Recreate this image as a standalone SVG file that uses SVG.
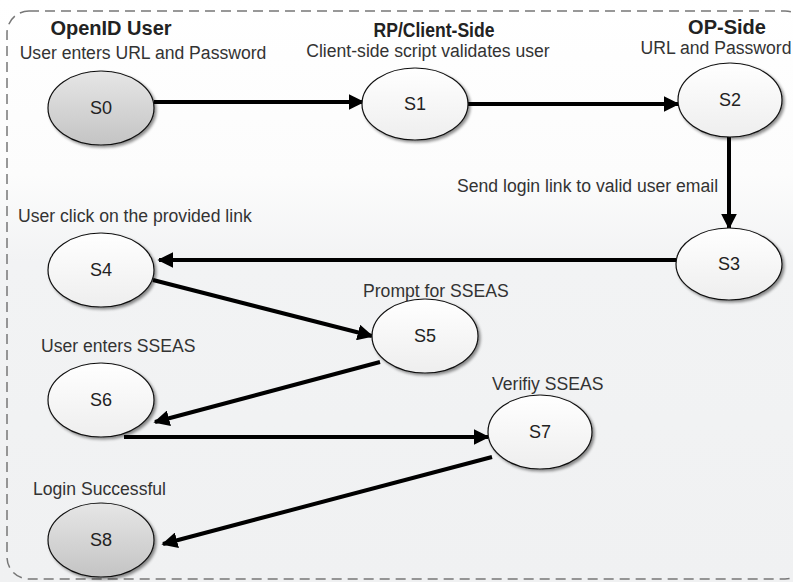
<svg xmlns="http://www.w3.org/2000/svg" width="793" height="582" viewBox="0 0 793 582">
  <defs>
    <linearGradient id="bg" x1="0" y1="0" x2="0" y2="1">
      <stop offset="0" stop-color="#ffffff"/>
      <stop offset="0.3" stop-color="#fcfcfc"/>
      <stop offset="0.45" stop-color="#f2f3f4"/>
      <stop offset="1" stop-color="#f0f1f2"/>
    </linearGradient>
    <linearGradient id="white" x1="0" y1="0" x2="0" y2="1">
      <stop offset="0" stop-color="#ffffff"/>
      <stop offset="1" stop-color="#eeeeee"/>
    </linearGradient>
    <linearGradient id="grey" x1="0" y1="0" x2="0" y2="1">
      <stop offset="0" stop-color="#e6e6e6"/>
      <stop offset="1" stop-color="#c4c4c4"/>
    </linearGradient>
    <filter id="shadow" x="-20%" y="-20%" width="150%" height="150%">
      <feGaussianBlur in="SourceAlpha" stdDeviation="1.5"/>
      <feOffset dx="2" dy="2" result="b"/>
      <feComponentTransfer><feFuncA type="linear" slope="0.45"/></feComponentTransfer>
      <feMerge><feMergeNode/><feMergeNode in="SourceGraphic"/></feMerge>
    </filter>
    <marker id="arrow" viewBox="0 0 10 10" refX="9" refY="5" markerWidth="4" markerHeight="4" markerUnits="strokeWidth" orient="auto">
      <path d="M0,0 L10,5 L0,10 z" fill="#000"/>
    </marker>
  </defs>
  <style>
    .state { stroke: #111; stroke-width: 1.2; filter: url(#shadow); }
    .plain { fill: url(#white); }
    .shaded { fill: url(#grey); }
    .id { font-family: "Liberation Sans", Arial, sans-serif; font-size: 18px; fill: #222; text-anchor: middle; }
    .head { font-family: "Liberation Sans", Arial, sans-serif; font-size: 20px; font-weight: bold; fill: #222; text-anchor: middle; }
    .lbl { font-family: "Liberation Sans", Arial, sans-serif; font-size: 17.6px; fill: #333; }
    .edge { fill: none; stroke: #000; stroke-width: 4; marker-end: url(#arrow); }
  </style>

  <!-- canvas and dashed frame -->
  <rect x="0" y="0" width="793" height="582" fill="url(#bg)"/>
  <rect x="7" y="11" width="800" height="568" rx="22" ry="22" fill="none" stroke="#777" stroke-width="1.5" stroke-dasharray="10,6"/>

  <!-- column headers -->
  <g id="headers">
    <text class="head" x="111" y="35" font-size="20.5">OpenID User</text>
    <text class="lbl" x="143" y="59" text-anchor="middle">User enters URL and Password</text>
    <text class="head" x="434" y="37" font-size="19" textLength="121" lengthAdjust="spacingAndGlyphs">RP/Client-Side</text>
    <text class="lbl" x="428" y="57" text-anchor="middle">Client-side script validates user</text>
    <text class="head" x="727" y="34">OP-Side</text>
    <text class="lbl" x="716" y="54" text-anchor="middle">URL and Password</text>
  </g>

  <!-- connectors -->
  <g id="connectors">
    <line class="edge" x1="154" y1="102" x2="363" y2="102"/>
    <line class="edge" x1="468" y1="104" x2="678" y2="104"/>
    <line class="edge" x1="729" y1="137" x2="729" y2="228"/>
    <line class="edge" x1="676" y1="260" x2="159" y2="260"/>
    <line class="edge" x1="153" y1="280" x2="372" y2="336" stroke-width="5"/>
    <line class="edge" x1="380" y1="362" x2="155" y2="422" stroke-width="3.5"/>
    <line class="edge" x1="124" y1="437" x2="488" y2="437"/>
    <line class="edge" x1="492" y1="457" x2="163" y2="544"/>
    <text class="lbl" x="457" y="192">Send login link to valid user email</text>
  </g>

  <!-- states -->
  <g id="S0">
    <ellipse class="state shaded" cx="101" cy="108" rx="53" ry="37"/>
    <text class="id" x="101" y="114">S0</text>
  </g>
  <g id="S1">
    <ellipse class="state plain" cx="415" cy="104" rx="53" ry="36"/>
    <text class="id" x="415" y="110">S1</text>
  </g>
  <g id="S2">
    <ellipse class="state plain" cx="730" cy="100" rx="52" ry="37"/>
    <text class="id" x="730" y="106">S2</text>
  </g>
  <g id="S3">
    <ellipse class="state plain" cx="729" cy="264" rx="53" ry="36"/>
    <text class="id" x="729" y="270">S3</text>
  </g>
  <g id="S4">
    <text class="lbl" x="18" y="222">User click on the provided link</text>
    <ellipse class="state plain" cx="101" cy="270" rx="53" ry="37"/>
    <text class="id" x="101" y="276">S4</text>
  </g>
  <g id="S5">
    <text class="lbl" x="363" y="297">Prompt for SSEAS</text>
    <ellipse class="state plain" cx="425" cy="336" rx="53" ry="37"/>
    <text class="id" x="425" y="342">S5</text>
  </g>
  <g id="S6">
    <text class="lbl" x="41" y="352">User enters SSEAS</text>
    <ellipse class="state plain" cx="101" cy="400" rx="53" ry="37"/>
    <text class="id" x="101" y="406">S6</text>
  </g>
  <g id="S7">
    <text class="lbl" x="492" y="390">Verifiy SSEAS</text>
    <ellipse class="state plain" cx="540" cy="432" rx="52" ry="37"/>
    <text class="id" x="540" y="438">S7</text>
  </g>
  <g id="S8">
    <text class="lbl" x="33" y="495">Login Successful</text>
    <ellipse class="state shaded" cx="101" cy="540" rx="53" ry="37"/>
    <text class="id" x="101" y="546">S8</text>
  </g>
</svg>
